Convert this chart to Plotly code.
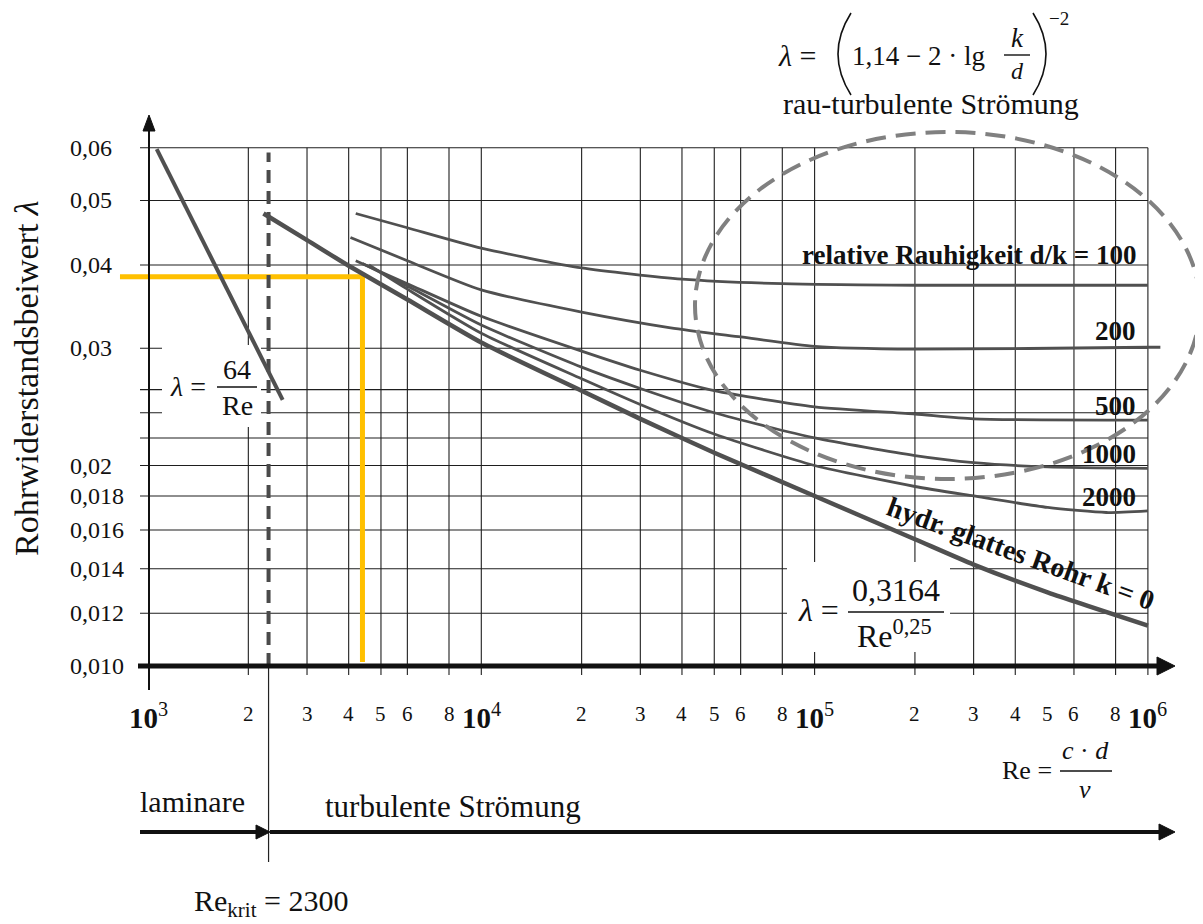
import numpy as np
import plotly.graph_objects as go

W, H = 1203, 924          # window size
OFF = 8                   # page body margin of the html page
FW, FH = W - OFF, H - OFF # figure size so that it ends at the window edge
FONT = "Liberation Serif"
INK = "#111111"
CURVE = "#505050"

# ---------------- data ----------------
re_laminar = [1062, 2535]
lam_laminar = [0.0597, 0.0251]

re_smooth = [2220, 3000, 4000, 6000, 10000, 20000, 30000, 50000, 100000, 200000, 300000, 500000, 1000000]
lam_smooth = [0.0478, 0.0436, 0.0399, 0.0355, 0.0306, 0.0259, 0.0235, 0.0209, 0.0180, 0.0155, 0.0142, 0.0129, 0.0115]

re_dk100 = [4200, 6000, 10000, 20000, 40000, 80000, 200000, 1000000]
lam_dk100 = [0.0478, 0.0455, 0.0424, 0.0396, 0.0381, 0.0375, 0.0373, 0.0373]

re_dk200 = [4050, 6000, 10000, 20000, 37000, 60000, 100000, 200000, 1000000, 1090000]
lam_dk200 = [0.0440, 0.0406, 0.0367, 0.0340, 0.0322, 0.0312, 0.0302, 0.0299, 0.0301, 0.0301]

re_dk500 = [4200, 6000, 10000, 20000, 30000, 50000, 100000, 200000, 300000, 1000000]
lam_dk500 = [0.0406, 0.0375, 0.0335, 0.0297, 0.0278, 0.0259, 0.0245, 0.0239, 0.0235, 0.0234]

re_dk1000 = [4400, 6000, 10000, 20000, 30000, 50000, 100000, 200000, 300000, 500000, 1000000]
lam_dk1000 = [0.0402, 0.0372, 0.0325, 0.0281, 0.0261, 0.0240, 0.0220, 0.0207, 0.0202, 0.0199, 0.0198]

re_dk2000 = [4600, 6000, 10000, 20000, 30000, 50000, 100000, 200000, 300000, 500000, 750000, 1000000]
lam_dk2000 = [0.0400, 0.0368, 0.0316, 0.0270, 0.0247, 0.0223, 0.0200, 0.0186, 0.0180, 0.0173, 0.0170, 0.0171]

re_krit = 2300
re_example = 4400
lam_example = 0.0384
re_example_left = 824

x_tick_vals = [1e3, 2e3, 3e3, 4e3, 5e3, 6e3, 8e3, 1e4, 2e4, 3e4, 4e4, 5e4, 6e4, 8e4,
               1e5, 2e5, 3e5, 4e5, 5e5, 6e5, 8e5, 1e6]
x_tick_text = ["10|3", "2", "3", "4", "5", "6", "8", "10|4", "2", "3", "4", "5", "6", "8",
               "10|5", "2", "3", "4", "5", "6", "8", "10|6"]
x_grid_vals = [2e3, 3e3, 4e3, 5e3, 6e3, 8e3, 1e4, 2e4, 3e4, 4e4, 5e4, 6e4, 8e4,
               1e5, 2e5, 3e5, 4e5, 6e5, 8e5, 1e6]

y_tick_vals = [0.06, 0.05, 0.04, 0.03, 0.02, 0.018, 0.016, 0.014, 0.012, 0.010]
y_tick_text = ["0,06", "0,05", "0,04", "0,03", "0,02", "0,018", "0,016", "0,014", "0,012", "0,010"]
y_grid_vals = [0.012, 0.014, 0.016, 0.018, 0.02, 0.022, 0.024, 0.026, 0.03, 0.04, 0.05, 0.06]

# ---------------- axis geometry (window pixels) ----------------
X_ORIGIN_PX, X_DEC_PX = 148.0, 333.3   # Re = 1e3 at window pixel 148
Y_ORIGIN_PX, Y_DEC_PX = 666.0, 666.0   # lambda = 0.01 at window pixel 666
x_range = [3 - (X_ORIGIN_PX - OFF) / X_DEC_PX, 3 + (FW - (X_ORIGIN_PX - OFF)) / X_DEC_PX]
y_range = [-2 - (FH - (Y_ORIGIN_PX - OFF)) / Y_DEC_PX, -2 + (Y_ORIGIN_PX - OFF) / Y_DEC_PX]


def re_at(px):
    return 10 ** (3 + (px - X_ORIGIN_PX) / X_DEC_PX)


def lam_at(py):
    return 10 ** (-2 + (Y_ORIGIN_PX - py) / Y_DEC_PX)


def pxp(x):
    return (x - OFF) / FW


def pyp(y):
    return 1 - (y - OFF) / FH


fig = go.Figure()

# grid (with tick stubs outside the axes)
gx, gy = [], []
for v in x_grid_vals:
    gx += [v, v, None]
    gy += [lam_at(675), 0.06, None]
for v in y_grid_vals:
    gx += [re_at(140), 1e6, None]
    gy += [v, v, None]
fig.add_trace(go.Scatter(x=gx, y=gy, mode="lines", line=dict(color="#1e1e1e", width=1.1),
                         hoverinfo="skip"))


def white_box(x0, x1, y0, y1):
    fig.add_trace(go.Scatter(x=[x0, x1, x1, x0, x0], y=[y0, y0, y1, y1, y0], mode="lines",
                             fill="toself", fillcolor="white", line=dict(width=0),
                             hoverinfo="skip"))


white_box(re_at(162), re_at(261), lam_at(427), lam_at(345))
white_box(re_at(787), re_at(950), lam_at(652), lam_at(562))

# yellow reading lines
fig.add_trace(go.Scatter(x=[re_example_left, re_example, re_example],
                         y=[lam_example, lam_example, lam_at(662)], mode="lines",
                         line=dict(color="#FFC000", width=5)))

# critical Reynolds number (dashed)
fig.add_trace(go.Scatter(x=[re_krit, re_krit], y=[0.01, 0.059], mode="lines",
                         line=dict(color="#4a4a4a", width=4, dash="13px,8px")))
# thin line below axis
fig.add_trace(go.Scatter(x=[re_krit, re_krit], y=[0.01, lam_at(862)], mode="lines",
                         line=dict(color="#222222", width=1.2)))

# curves
for xs, ys, wdt in [(re_dk100, lam_dk100, 2.8), (re_dk200, lam_dk200, 2.8),
                    (re_dk500, lam_dk500, 2.8), (re_dk1000, lam_dk1000, 2.8),
                    (re_dk2000, lam_dk2000, 2.8), (re_smooth, lam_smooth, 4.5)]:
    fig.add_trace(go.Scatter(x=xs, y=ys, mode="lines",
                             line=dict(color=CURVE, width=wdt, shape="spline", smoothing=0.6)))
fig.add_trace(go.Scatter(x=re_laminar, y=lam_laminar, mode="lines",
                         line=dict(color=CURVE, width=4)))

ann = []


def text(x, y, s, size, xanchor="center", angle=0, color=INK, xref="paper", yref="paper"):
    ann.append(dict(x=x, y=y, xref=xref, yref=yref, text=s, showarrow=False,
                    xanchor=xanchor, yanchor="middle", textangle=angle,
                    font=dict(family=FONT, size=size, color=color)))


shapes = []


def seg(x0, y0, x1, y1, width=1.4, color=INK):
    shapes.append(dict(type="line", xref="paper", yref="paper", x0=pxp(x0), y0=pyp(y0),
                       x1=pxp(x1), y1=pyp(y1), line=dict(color=color, width=width)))


def head(points):
    path = "M " + " L ".join(f"{pxp(a)},{pyp(b)}" for a, b in points) + " Z"
    shapes.append(dict(type="path", xref="paper", yref="paper", path=path,
                       fillcolor=INK, line=dict(color=INK, width=1)))


# axes with arrow heads
seg(149, 690, 149, 128, width=2)
head([(149, 115), (143, 131), (155, 131)])
seg(138, 666, 1160, 666, width=5)
head([(1175, 666), (1157, 657), (1157, 675)])
# bottom regime arrows
seg(140, 832, 260, 832, width=4)
head([(270, 832), (256, 825), (256, 839)])
seg(270, 832, 1162, 832, width=4)
head([(1175, 832), (1159, 824), (1159, 840)])

# tick labels
for v, t in zip(x_tick_vals, x_tick_text):
    if "|" in t:
        base, ex = t.split("|")
        text(np.log10(v), pyp(716), f"<b>{base}</b><sup>{ex}</sup>", 29, xref="x")
    else:
        text(np.log10(v), pyp(714), t, 21, xref="x")
for v, t in zip(y_tick_vals, y_tick_text):
    text(pxp(68), np.log10(v), t, 24, xanchor="left", yref="y")

# axis title
text(pxp(26), pyp(378), "Rohrwiderstandsbeiwert <i>λ</i>", 34, angle=-90)

# laminar formula
text(pxp(188), pyp(386), "<i>λ</i> =", 28)
text(pxp(237), pyp(369), "64", 28)
text(pxp(237), pyp(406), "Re", 28)

# Blasius formula
text(pxp(818), pyp(610), "<i>λ</i> =", 32)
text(pxp(896), pyp(590), "0,3164", 32)
text(pxp(894), pyp(634), "Re<sup>0,25</sup>", 32)

# rough-turbulent formula
text(pxp(797), pyp(55), "<i>λ</i> =", 30)
text(pxp(918), pyp(56), "1,14 − 2 · lg", 27)
text(pxp(1017), pyp(38), "<i>k</i>", 27)
text(pxp(1017), pyp(71), "<i>d</i>", 24)
text(pxp(1059), pyp(19), "−2", 19)
text(pxp(931), pyp(103), "rau-turbulente Strömung", 30)

# curve labels
text(pxp(1138), pyp(255), "<b>relative Rauhigkeit d/k = 100</b>", 27, xanchor="right")
text(pxp(1138), pyp(331), "<b>200</b>", 27, xanchor="right")
text(pxp(1138), pyp(406), "<b>500</b>", 27, xanchor="right")
text(pxp(1138), pyp(454), "<b>1000</b>", 27, xanchor="right")
text(pxp(1138), pyp(497), "<b>2000</b>", 27, xanchor="right")
text(pxp(1021), pyp(553), "<b>hydr. glattes Rohr k = 0</b>", 28, angle=20)

# Re definition
text(pxp(1027), pyp(770), "Re =", 26)
text(pxp(1085), pyp(750), "<i>c</i> · <i>d</i>", 26)
text(pxp(1085), pyp(789), "<i>ν</i>", 26)

# regime labels
text(pxp(193), pyp(801), "laminare", 30)
text(pxp(453), pyp(806), "turbulente Strömung", 31)
text(pxp(271), pyp(903), "Re<sub>krit</sub> = 2300", 30)

seg(217, 387, 257, 387)          # 64/Re fraction bar
seg(848, 612, 944, 612)          # 0.3164/Re^0.25 fraction bar
seg(1004, 55, 1030, 55)          # k/d fraction bar
seg(1060, 771, 1112, 771)        # c d / nu fraction bar


def paren(x_end, x_ctrl, y0, y1):
    ym = (y0 + y1) / 2
    path = (f"M {pxp(x_end)},{pyp(y0)} Q {pxp(x_ctrl)},{pyp(ym)} {pxp(x_end)},{pyp(y1)}")
    shapes.append(dict(type="path", xref="paper", yref="paper", path=path,
                       line=dict(color=INK, width=1.6)))


paren(851, 825, 13, 95)
paren(1033, 1059, 13, 95)

# dashed ellipse around the rough-turbulent region
shapes.append(dict(type="circle", xref="paper", yref="paper",
                   x0=pxp(695), x1=pxp(1200), y0=pyp(479), y1=pyp(132),
                   line=dict(color="#808080", width=4, dash="20px,10px")))

fig.update_layout(
    width=FW, height=FH, margin=dict(l=0, r=0, t=0, b=0, pad=0),
    paper_bgcolor="white", plot_bgcolor="white", showlegend=False,
    xaxis=dict(type="log", range=x_range, visible=False, fixedrange=True),
    yaxis=dict(type="log", range=y_range, visible=False, fixedrange=True),
    annotations=ann, shapes=shapes,
)

fig.write_html("out.html")
